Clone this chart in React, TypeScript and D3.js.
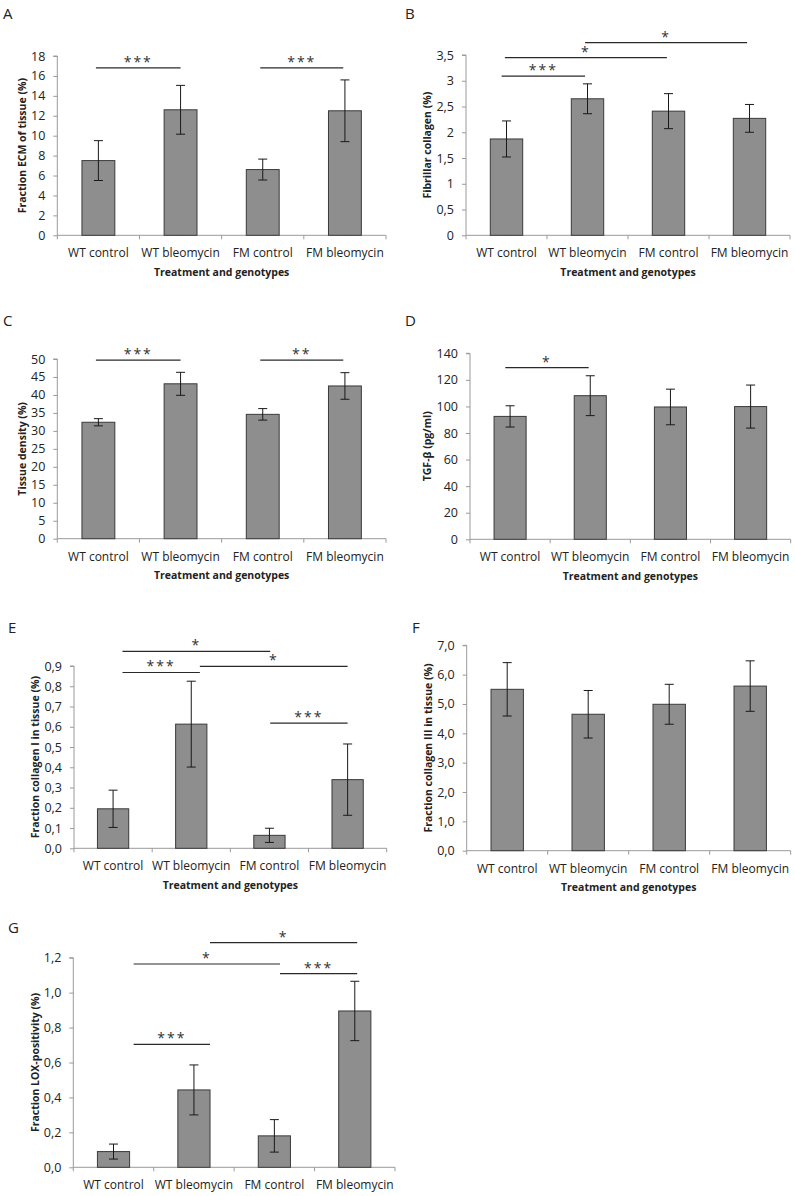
import { useEffect, useRef } from 'react'
import * as d3 from 'd3'

// groups on the x axis (same for every panel)
const categories = ['WT control', 'WT bleomycin', 'FM control', 'FM bleomycin']

// A - fraction ECM
const ecmMean = [7.5, 12.6, 6.6, 12.5]
const ecmErr = [2.0, 2.45, 1.05, 3.1]
// B - fibrillar collagen
const fibMean = [1.87, 2.65, 2.41, 2.27]
const fibErr = [0.35, 0.29, 0.34, 0.27]
// C - tissue density
const densMean = [32.4, 43.1, 34.6, 42.5]
const densErr = [1.0, 3.2, 1.6, 3.7]
// D - TGF-beta
const tgfMean = [92.5, 108.1, 99.6, 99.9]
const tgfErr = [8.0, 15.0, 13.4, 16.2]
// E - collagen I
const col1Mean = [0.195, 0.613, 0.064, 0.339]
const col1Err = [0.092, 0.212, 0.035, 0.176]
// F - collagen III
const col3Mean = [5.5, 4.65, 4.99, 5.61]
const col3Err = [0.91, 0.81, 0.68, 0.86]
// G - LOX positivity
const loxMean = [0.09, 0.443, 0.18, 0.895]
const loxErr = [0.043, 0.143, 0.093, 0.17]

// significance brackets: [from, to] in category units (i + 0.5 = bar centre), level in data units, stars
const ecmSig = [[0.47, 1.5, 16.8, '***'], [2.47, 3.48, 16.8, '***']]
const fibSig = [[0.44, 1.47, 3.09, '***'], [0.48, 2.48, 3.45, '*'], [1.47, 3.47, 3.74, '*']]
const densSig = [[0.47, 1.5, 49.7, '***'], [2.47, 3.48, 49.7, '**']]
const tgfSig = [[0.44, 1.48, 129.2, '*']]
const col1Sig = [[0.62, 2.51, 0.972, '*'], [0.62, 1.61, 0.868, '***'], [1.61, 3.5, 0.898, '*'], [2.51, 3.5, 0.618, '***']]
const col3Sig: any[] = []
const loxSig = [[1.7, 3.53, 1.286, '*'], [0.75, 2.57, 1.164, '*'], [2.57, 3.53, 1.109, '***'], [0.75, 1.7, 0.704, '***']]

const locale = d3.formatLocale({ decimal: ',', thousands: '.', grouping: [3], currency: ['', ''] })
const fmtInt = locale.format('d')
const fmtHalf = locale.format('.1~f')
const fmtOne = locale.format('.1f')

const FONT = "'Open Sans', 'DejaVu Sans', sans-serif"

const panels = [
  { letter: 'A', lx: 3, ly: 18.5, x0: 57.3, x1: 386, yTop: 56, yZero: 235.3, max: 18, step: 2, fmt: fmtInt, title: 'Fraction ECM of tissue (%)', tx: 35.3, mean: ecmMean, err: ecmErr, sig: ecmSig, xTitle: true },
  { letter: 'B', lx: 405, ly: 19.3, x0: 466, x1: 790, yTop: 55, yZero: 235.3, max: 3.5, step: 0.5, fmt: fmtHalf, title: 'Fibrillar collagen (%)', tx: 39.3, mean: fibMean, err: fibErr, sig: fibSig, xTitle: true },
  { letter: 'C', lx: 3, ly: 325.7, x0: 57.3, x1: 386, yTop: 359, yZero: 538.7, max: 50, step: 5, fmt: fmtInt, title: 'Tissue density (%)', tx: 35.3, mean: densMean, err: densErr, sig: densSig, xTitle: true },
  { letter: 'D', lx: 405, ly: 325.7, x0: 470, x1: 790.7, yTop: 353.3, yZero: 539.3, max: 140, step: 20, fmt: fmtInt, title: 'TGF-β (pg/ml)', tx: 43.3, mean: tgfMean, err: tgfErr, sig: tgfSig, xTitle: true },
  { letter: 'E', lx: 8, ly: 633.3, x0: 74, x1: 386.7, yTop: 666, yZero: 848.3, max: 0.9, step: 0.1, fmt: fmtOne, title: 'Fraction collagen I in tissue (%)', tx: 39, mean: col1Mean, err: col1Err, sig: col1Sig, xTitle: true },
  { letter: 'F', lx: 412, ly: 633.3, x0: 466.7, x1: 790.7, yTop: 645.3, yZero: 850.7, max: 7, step: 1, fmt: fmtOne, title: 'Fraction collagen III in tissue (%)', tx: 38.4, mean: col3Mean, err: col3Err, sig: col3Sig, xTitle: true },
  { letter: 'G', lx: 8, ly: 933.3, x0: 73.3, x1: 395, yTop: 957.7, yZero: 1167.3, max: 1.2, step: 0.2, fmt: fmtOne, title: 'Fraction LOX-positivity (%)', tx: 38.3, mean: loxMean, err: loxErr, sig: loxSig, xTitle: false },
]

const App = () => {
  const ref = useRef<SVGSVGElement>(null)

  useEffect(() => {
    const svg = d3.select(ref.current)
    svg.selectAll('*').remove()

    panels.forEach((p) => {
      const g = svg.append('g')
      const x = d3.scaleBand().domain(categories).range([p.x0, p.x1]).paddingInner(0.6).paddingOuter(0.3)
      const xu = d3.scaleLinear().domain([0, categories.length]).range([p.x0, p.x1])
      const y = d3.scaleLinear().domain([0, p.max]).range([p.yZero, p.yTop])
      const ticks = d3.range(0, p.max + p.step / 2, p.step)

      // panel letter
      g.append('text')
        .attr('x', p.lx)
        .attr('y', p.ly)
        .attr('font-size', 15)
        .attr('fill', '#222')
        .text(p.letter)

      // y axis
      const yAxis = d3.axisLeft(y).tickValues(ticks).tickFormat((d) => p.fmt(d as number)).tickSize(4).tickPadding(8)
      const ya = g.append('g').attr('transform', `translate(${p.x0},0)`).call(yAxis)
      ya.select('.domain').attr('stroke', '#9a9a9a').attr('d', `M-4,${p.yTop}H0V${p.yZero + 4}`)
      ya.selectAll('.tick line').attr('stroke', '#9a9a9a')
      ya.selectAll('.tick text').attr('font-family', FONT).attr('font-size', 12.5).attr('fill', '#222')

      // x axis line, group boundary ticks and labels
      g.append('line')
        .attr('x1', p.x0)
        .attr('x2', p.x1)
        .attr('y1', p.yZero)
        .attr('y2', p.yZero)
        .attr('stroke', '#9a9a9a')
      g.selectAll('.xtick')
        .data(d3.range(1, categories.length + 1))
        .enter()
        .append('line')
        .attr('x1', (i) => xu(i))
        .attr('x2', (i) => xu(i))
        .attr('y1', p.yZero)
        .attr('y2', p.yZero + 4)
        .attr('stroke', '#9a9a9a')
      g.selectAll('.xlab')
        .data(categories)
        .enter()
        .append('text')
        .attr('x', (d) => (x(d) as number) + x.bandwidth() / 2)
        .attr('y', p.yZero + 22)
        .attr('text-anchor', 'middle')
        .attr('font-family', FONT)
        .attr('font-size', 12)
        .attr('fill', '#222')
        .text((d) => d)

      // bars
      g.selectAll('.bar')
        .data(p.mean)
        .enter()
        .append('rect')
        .attr('x', (_, i) => x(categories[i]) as number)
        .attr('y', (d) => y(d))
        .attr('width', x.bandwidth())
        .attr('height', (d) => p.yZero - y(d))
        .attr('fill', '#8e8e8e')
        .attr('stroke', '#3a3a3a')
        .attr('stroke-width', 1)

      // error bars
      p.mean.forEach((m, i) => {
        const cx = (x(categories[i]) as number) + x.bandwidth() / 2
        const hi = y(m + p.err[i])
        const lo = y(m - p.err[i])
        g.append('path')
          .attr('d', `M${cx},${hi}V${lo}M${cx - 4.5},${hi}H${cx + 4.5}M${cx - 4.5},${lo}H${cx + 4.5}`)
          .attr('stroke', '#1a1a1a')
          .attr('stroke-width', 1)
          .attr('fill', 'none')
      })

      // significance lines
      p.sig.forEach(([a, b, lvl, stars]) => {
        const yy = y(lvl as number)
        g.append('line')
          .attr('x1', xu(a as number))
          .attr('x2', xu(b as number))
          .attr('y1', yy)
          .attr('y2', yy)
          .attr('stroke', '#2a2a2a')
          .attr('stroke-width', 1.2)
        g.append('text')
          .attr('x', (xu(a as number) + xu(b as number)) / 2)
          .attr('y', yy - 1)
          .attr('text-anchor', 'middle')
          .attr('font-family', FONT)
          .attr('font-size', 14)
          .attr('letter-spacing', 2)
          .attr('fill', '#333')
          .text(stars as string)
      })

      // axis titles
      const midY = (p.yTop + p.yZero) / 2
      g.append('text')
        .attr('transform', `translate(${p.x0 - p.tx},${midY}) rotate(-90)`)
        .attr('text-anchor', 'middle')
        .attr('dominant-baseline', 'central')
        .attr('font-family', FONT)
        .attr('font-weight', 'bold')
        .attr('font-size', 10.5)
        .attr('fill', '#222')
        .text(p.title)

      if (p.xTitle) {
        g.append('text')
          .attr('x', (p.x0 + p.x1) / 2)
          .attr('y', p.yZero + 40.4)
          .attr('text-anchor', 'middle')
          .attr('font-family', FONT)
          .attr('font-weight', 'bold')
          .attr('font-size', 10.5)
          .attr('fill', '#222')
          .text('Treatment and genotypes')
      }
    })
  }, [])

  return (
    <svg
      ref={ref}
      width={795}
      height={1196}
      style={{ position: 'absolute', left: 0, top: 0, background: '#fff', fontFamily: FONT }}
    />
  )
}

export default App
